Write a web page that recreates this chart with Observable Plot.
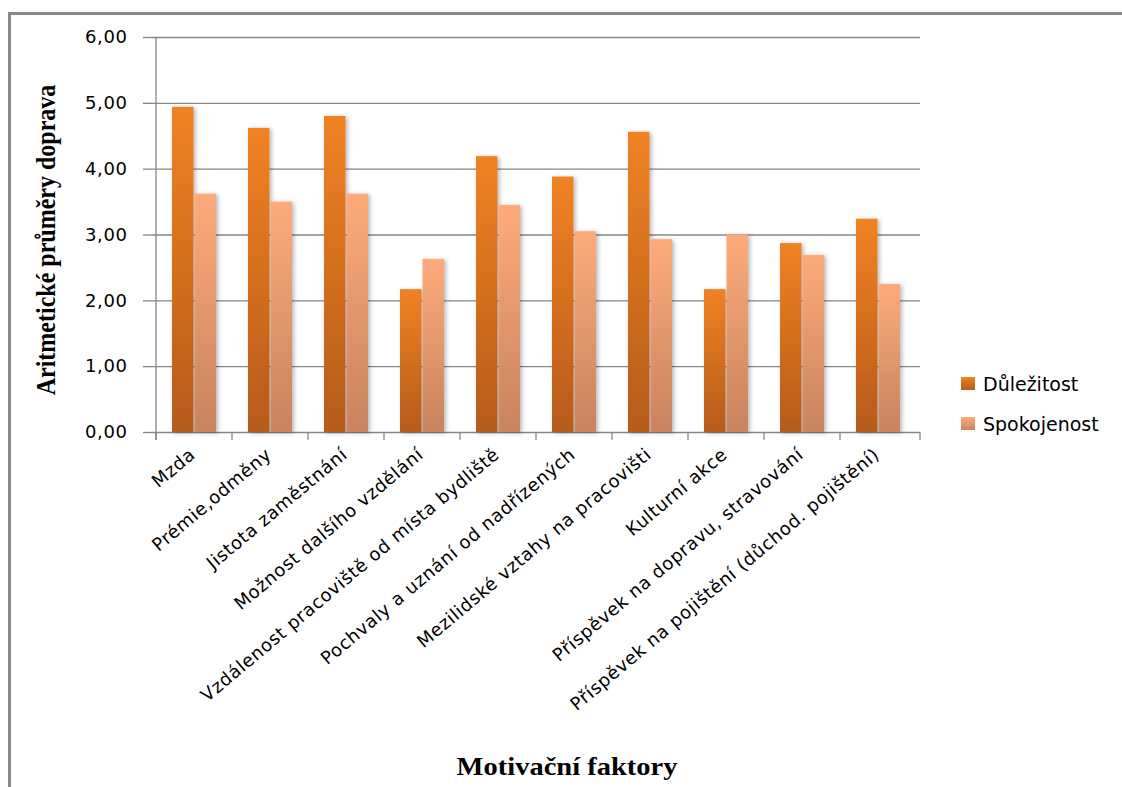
<!DOCTYPE html>
<html lang="cs">
<head>
<meta charset="utf-8">
<script src="https://cdn.jsdelivr.net/npm/d3@7"></script>
<script src="https://cdn.jsdelivr.net/npm/@observablehq/plot@0.6"></script>
<style>
  html, body { margin: 0; padding: 0; background: #fff; }
  #page { position: relative; width: 1122px; height: 787px; overflow: hidden; background: #fff; }
  #frame { position: absolute; left: 8px; top: 12px; width: 1200px; height: 900px;
           border-top: 3px solid #8a8a8a; border-left: 3px solid #8a8a8a; box-sizing: border-box; }
  #chart { position: absolute; left: 0; top: 0; }
  #chart svg { overflow: visible; }
  .title-y { position: absolute; left: 46px; top: 240px; transform: translate(-50%, -50%) rotate(-90deg) scaleY(1.15);
             font: bold 24px "Liberation Serif", "DejaVu Serif", serif; white-space: nowrap; color: #000; }
  .title-x { position: absolute; left: 567px; top: 767px; transform: translate(-50%, -50%) scaleX(1.14);
             font: bold 25px "Liberation Serif", "DejaVu Serif", serif; white-space: nowrap; color: #000; }
  .legend { position: absolute; left: 961px; top: 370px; font: 19px "DejaVu Sans", sans-serif; color: #000; }
  .legend .item { display: flex; align-items: center; height: 27px; margin-bottom: 13px; }
  .legend .sw { width: 14px; height: 13px; margin-right: 8px; }
</style>
</head>
<body>
<div id="page">
  <div id="frame"></div>
  <div id="chart"></div>
  <div class="title-y">Aritmetické průměry doprava</div>
  <div class="title-x">Motivační faktory</div>
  <div class="legend" id="legend"></div>
</div>
<script>
// Motivation factors (transport) – arithmetic means of importance and satisfaction
const categories = [
  "Mzda",
  "Prémie,odměny",
  "Jistota zaměstnání",
  "Možnost dalšího vzdělání",
  "Vzdálenost pracoviště od místa bydliště",
  "Pochvaly a uznání od nadřízených",
  "Mezilidské vztahy na pracovišti",
  "Kulturní akce",
  "Příspěvek na dopravu, stravování",
  "Příspěvek na pojištění (důchod. pojištění)"
];
const dulezitost  = [4.94, 4.62, 4.80, 2.17, 4.19, 3.88, 4.56, 2.17, 2.87, 3.24];
const spokojenost = [3.62, 3.50, 3.62, 2.63, 3.45, 3.05, 2.93, 3.00, 2.69, 2.25];
const seriesNames = ["Důležitost", "Spokojenost"];
const yTicks = [0, 1, 2, 3, 4, 5, 6];

const rowsD = categories.map((c, i) => ({category: c, value: dulezitost[i]}));
const rowsS = categories.map((c, i) => ({category: c, value: spokojenost[i]}));

const gridColor = "#868686";
const fmt = d => d.toFixed(2).replace(".", ",");

// gradient fills and soft shadow used by the bars
function defs() {
  const g = d3.create("svg:g");
  const d = g.append("defs");
  const grad = (id, top, bottom) => {
    const lg = d.append("linearGradient").attr("id", id).attr("x1", 0).attr("y1", 0).attr("x2", 0).attr("y2", 1);
    lg.append("stop").attr("offset", "0%").attr("stop-color", top);
    lg.append("stop").attr("offset", "100%").attr("stop-color", bottom);
  };
  grad("gradD", "#f08222", "#b65b1b");
  grad("gradS", "#fdab7b", "#c8835f");
  const f = d.append("filter").attr("id", "barShadow").attr("x", "-30%").attr("y", "-10%").attr("width", "170%").attr("height", "120%");
  f.append("feDropShadow").attr("dx", 2).attr("dy", 1).attr("stdDeviation", 2)
    .attr("flood-color", "#000").attr("flood-opacity", 0.28);
  return g.node();
}

// vertical axis line plus tick marks on the category boundaries
function categoryAxis(index, scales, values, dimensions) {
  const {x, y} = scales;
  const y0 = y(0);
  const edges = categories.map(c => x(c));
  edges.push(dimensions.width - dimensions.marginRight);
  const g = d3.create("svg:g").attr("stroke", gridColor).attr("stroke-width", 1.3).attr("fill", "none");
  g.selectAll("line.tick").data(edges).join("line")
    .attr("x1", d => d).attr("x2", d => d)
    .attr("y1", y0).attr("y2", y0 + 8);
  g.append("line")
    .attr("x1", edges[0]).attr("x2", edges[0])
    .attr("y1", y(6)).attr("y2", y0 + 8);
  return g.node();
}

const bandPad = {d: [16, 38.5], s: [38.5, 16]};

const chart = Plot.plot({
  width: 1122,
  height: 740,
  marginTop: 37,
  marginLeft: 151,
  marginRight: 202,
  marginBottom: 308,
  style: {background: "transparent", overflow: "visible"},
  x: {domain: categories, type: "band", padding: 0, axis: null},
  y: {domain: [0, 6], axis: null},
  marks: [
    defs,
    Plot.ruleY(yTicks, {stroke: gridColor, strokeWidth: 1.3}),
    Plot.barY(rowsD, {x: "category", y: "value", fill: "url(#gradD)",
      insetLeft: bandPad.d[0], insetRight: bandPad.d[1]}),
    Plot.barY(rowsS, {x: "category", y: "value", fill: "url(#gradS)",
      insetLeft: bandPad.s[0], insetRight: bandPad.s[1]}),
    categoryAxis,
    Plot.axisY(yTicks, {tickSize: 8, tickPadding: 16, tickFormat: fmt, fontSize: 18,
      fontFamily: "DejaVu Sans", stroke: gridColor, strokeWidth: 1.3, fill: "#000", label: null}),
    Plot.text(categories, {x: d => d, frameAnchor: "bottom", rotate: -40, textAnchor: "end",
      dx: 2, dy: 24, fontSize: 18, fontFamily: "DejaVu Sans", fill: "#000"})
  ]
});

d3.select(chart).selectAll('g[aria-label="bar"] rect').attr("filter", "url(#barShadow)");
d3.select(chart).selectAll('g[aria-label="text"] text').style("letter-spacing", "0.6px");
d3.select(chart).selectAll('g[aria-label="y-axis tick label"] text').style("letter-spacing", "0.6px");
document.getElementById("chart").appendChild(chart);

// legend
const legend = d3.select("#legend");
const swatches = ["linear-gradient(#f08222, #b65b1b)", "linear-gradient(#fdab7b, #c8835f)"];
seriesNames.forEach((name, i) => {
  const item = legend.append("div").attr("class", "item");
  item.append("div").attr("class", "sw").style("background", swatches[i]);
  item.append("span").text(name);
});
</script>
</body>
</html>
